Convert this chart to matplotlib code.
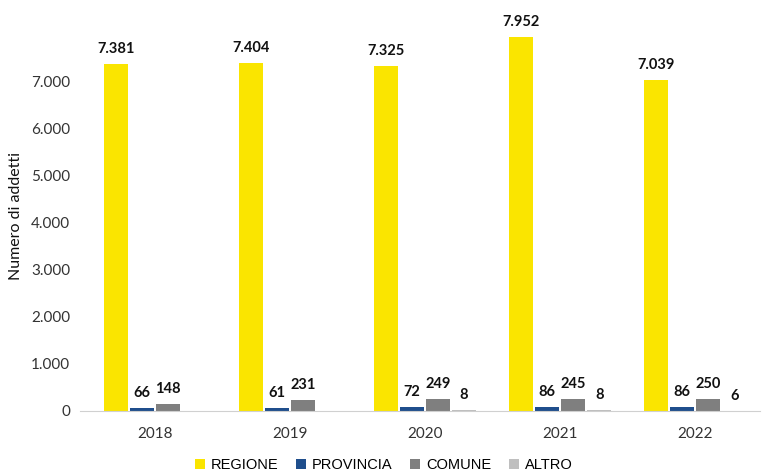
import matplotlib.pyplot as plt
import numpy as np

years = ["2018", "2019", "2020", "2021", "2022"]
series = ["REGIONE", "PROVINCIA", "COMUNE", "ALTRO"]
regione = [7381, 7404, 7325, 7952, 7039]
provincia = [66, 61, 72, 86, 86]
comune = [148, 231, 249, 245, 250]
altro = [None, None, 8, 8, 6]
colors = ["#FAE500", "#1F4E8C", "#7F7F7F", "#BFBFBF"]
yticks = [0, 1000, 2000, 3000, 4000, 5000, 6000, 7000]


def fmt(v):
    return f"{v:,}".replace(",", ".")


plt.rcParams['font.family'] = ['Lato', 'DejaVu Sans']

fig = plt.figure(figsize=(7.67, 4.76), dpi=100)
ax = fig.add_axes([0.104, 0.137, 0.887, 0.82])

x = np.arange(len(years))
width = 0.178
step = 0.193
data = [regione, provincia, comune, altro]

for i, (name, vals) in enumerate(zip(series, data)):
    pos = x + (i - 1.5) * step
    h = [v if v is not None else 0 for v in vals]
    bars = ax.bar(pos, h, width, color=colors[i], label=name)
    for b, v in zip(bars, vals):
        if v is None:
            continue
        ax.text(b.get_x() + b.get_width() / 2, v + 170, fmt(v),
                ha='center', va='bottom', fontsize=10.5, fontweight='bold',
                color='#111111')

ax.set_xlim(-0.555, 4.48)
ax.set_ylim(0, 8300)
ax.set_yticks(yticks)
ax.set_yticklabels([fmt(t) for t in yticks], fontsize=11, color='#333333')
ax.set_xticks(x)
ax.set_xticklabels(years, fontsize=11, color='#333333')
ax.tick_params(length=0, pad=7)
ax.tick_params(axis='x', pad=12)

for s in ['top', 'right', 'left']:
    ax.spines[s].set_visible(False)
ax.spines['bottom'].set_color('#D0D0D0')

ax.set_ylabel("Numero di addetti", fontsize=11.5, color='#111111', labelpad=6)

fig.legend(loc='lower center', ncol=4, frameon=False, fontsize=10.5,
           bbox_to_anchor=(0.5, -0.02), handlelength=0.7, handleheight=0.7,
           columnspacing=1.2, handletextpad=0.4,
           prop={'family': ['Liberation Sans', 'DejaVu Sans'], 'size': 10.5})

fig.savefig("out.png", dpi=100)
